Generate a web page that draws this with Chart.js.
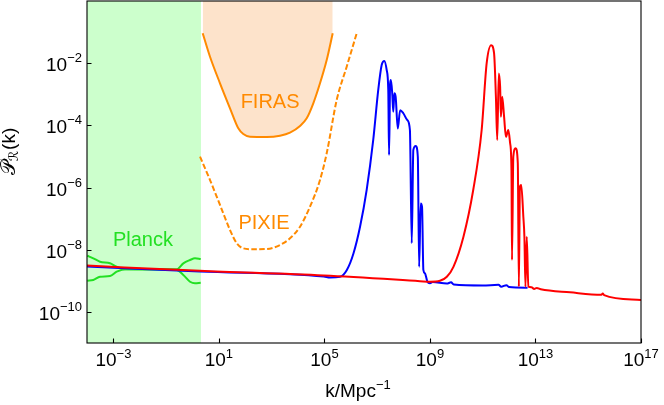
<!DOCTYPE html>
<html><head><meta charset="utf-8">
<script src="https://cdn.jsdelivr.net/npm/chart.js@4/dist/chart.umd.min.js"></script>
<style>html,body{margin:0;padding:0;background:#fff}#wrap{width:664px;height:405px}</style>
</head><body><div id="wrap"><canvas id="c" width="664" height="405"></canvas></div>
<script>
// ---- data (log10 of k and of P) ----
const xTickExp = [-3, 1, 5, 9, 13, 17];
const yTickExp = [-2, -4, -6, -8, -10];

const redLogK = [-4, 0.28, 4.98, 8.62, 9.0, 9.38, 9.64, 9.89, 10.27, 10.64, 10.96, 11.15, 11.32, 11.43, 11.50, 11.55, 11.61, 11.66, 11.69, 11.74, 11.81, 11.88, 11.97, 12.04, 12.09, 12.11, 12.16, 12.25, 12.33, 12.37, 12.41, 12.46, 12.54, 12.58, 12.62, 12.67, 12.73, 12.85, 12.95, 13.05, 13.2, 14.31, 15.5, 15.55, 15.6, 17];
const redLogP = [-8.51, -8.68, -8.83, -9.01, -9.03, -9.00, -8.87, -8.55, -7.58, -6.08, -4.15, -2.00, -1.42, -1.68, -3.08, -4.47, -2.33, -2.76, -3.72, -3.08, -3.72, -4.37, -4.15, -4.58, -5.44, -8.33, -5.01, -4.74, -5.22, -9.19, -5.97, -5.92, -6.94, -7.58, -9.19, -7.58, -9.19, -9.21, -9.26, -9.23, -9.27, -9.37, -9.45, -9.41, -9.46, -9.62];

const blueLogK = [-4, 0.28, 4.98, 5.21, 5.59, 5.85, 6.10, 6.35, 6.60, 6.85, 7.04, 7.17, 7.27, 7.36, 7.42, 7.45, 7.49, 7.52, 7.57, 7.61, 7.65, 7.70, 7.78, 7.87, 7.99, 8.14, 8.24, 8.31, 8.37, 8.46, 8.54, 8.59, 8.65, 8.70, 8.75, 8.81, 8.9, 9.0, 9.1, 9.64, 9.8, 9.9, 11.0, 11.6, 11.7, 11.9, 12.0, 12.7];
const blueLogP = [-8.54, -8.70, -8.86, -8.89, -8.87, -8.65, -8.12, -7.26, -6.08, -4.47, -2.86, -2.06, -1.93, -2.22, -2.86, -4.95, -2.65, -2.54, -2.97, -3.56, -2.97, -3.08, -4.10, -3.51, -3.61, -3.83, -4.15, -7.79, -4.79, -4.66, -5.01, -8.55, -6.51, -6.62, -8.65, -8.76, -9.02, -9.08, -9.04, -9.09, -9.05, -9.12, -9.15, -9.13, -9.19, -9.14, -9.20, -9.22];

const firasLogK = [0.386, 0.663, 1.042, 1.421, 1.735, 1.925, 2.179, 2.812, 3.316, 3.695, 4.074, 4.328, 4.578, 4.832, 5.086, 5.314];
const firasLogP = [-1.039, -1.792, -2.647, -3.451, -4.094, -4.278, -4.365, -4.374, -4.333, -4.236, -4.021, -3.773, -3.290, -2.647, -1.898, -1.039];

const pixieLogK = [0.284, 0.663, 1.042, 1.421, 1.675, 1.925, 2.304, 2.812, 3.316, 3.695, 4.074, 4.453, 4.832, 5.086, 5.465, 5.844, 6.224];
const pixieLogP = [-5.008, -5.758, -6.561, -7.366, -7.793, -7.954, -7.986, -7.977, -7.848, -7.633, -7.260, -6.617, -5.758, -4.899, -3.184, -2.113, -1.039];

const planckLogK = [-3.989, -3.761, -3.507, -3.128, -2.874, -2.495, -0.600, -0.349, -0.095, 0.094, 0.310];
const planckUpLogP = [-8.192, -8.276, -8.385, -8.437, -8.546, -8.630, -8.630, -8.437, -8.331, -8.276, -8.298];
const planckLoLogP = [-8.997, -8.974, -8.868, -8.845, -8.707, -8.630, -8.652, -8.813, -9.029, -9.080, -9.061];

const planckBandLogK = [-4, 0.32];
const xRangeExp = [-4, 17];
const yRangeExp = [-11, 0];

const labelTexts = ['FIRAS', 'PIXIE', 'Planck'];
const labelLogK = [2.94, 2.71, -1.88];
const labelLogP = [-3.45, -7.33, -7.87];

// ---- build points ----
const pts = (lk, lp) => lk.map((v, i) => ({x: Math.pow(10, v), y: Math.pow(10, lp[i])}));

const ORANGE = '#ff8a00', GREEN = '#22e022';
const FONT = '"Liberation Sans", Arial, sans-serif';

function drawPow(ctx, base, exp, x, y, align, big, small, rise) {
  ctx.font = big + 'px ' + FONT;
  const wb = ctx.measureText(base).width;
  ctx.font = small + 'px ' + FONT;
  const we = ctx.measureText(exp).width;
  const w = wb + we;
  let x0 = align === 'center' ? x - w / 2 : (align === 'right' ? x - w : x);
  ctx.textAlign = 'left';
  ctx.textBaseline = 'alphabetic';
  ctx.font = big + 'px ' + FONT;
  ctx.fillText(base, x0, y);
  ctx.font = small + 'px ' + FONT;
  ctx.fillText(exp, x0 + wb, y - rise);
}
const sup = e => (e < 0 ? '\u2212' : '') + Math.abs(e);

const deco = {
  id: 'deco',
  afterDraw(chart) {
    const {ctx, chartArea: a, scales: {x, y}} = chart;
    ctx.save();
    ctx.fillStyle = '#000';
    ctx.strokeStyle = '#000';
    ctx.lineWidth = 1.1;
    ctx.strokeRect(a.left, a.top, a.right - a.left, a.bottom - a.top);
    ctx.beginPath();
    xTickExp.forEach(e => {
      const px = Math.round(x.getPixelForValue(Math.pow(10, e))) + 0.5;
      ctx.moveTo(px, a.bottom); ctx.lineTo(px, a.bottom - 4.5);
    });
    yTickExp.forEach(e => {
      const py = Math.round(y.getPixelForValue(Math.pow(10, e))) + 0.5;
      ctx.moveTo(a.left, py); ctx.lineTo(a.left + 4.5, py);
    });
    ctx.stroke();
    xTickExp.forEach(e => {
      const px = x.getPixelForValue(Math.pow(10, e));
      drawPow(ctx, '10', sup(e), px, a.bottom + 23, 'center', 19, 13, 8.5);
    });
    yTickExp.forEach(e => {
      const py = y.getPixelForValue(Math.pow(10, e));
      drawPow(ctx, '10', sup(e), a.left - 5, py + 8, 'right', 19, 13, 9);
    });
    // x title
    drawPow(ctx, 'k/Mpc', '\u22121', 358, 397, 'center', 19, 13, 8.5);
    // y title
    ctx.translate(15, 152);
    ctx.rotate(-Math.PI / 2);
    ctx.font = '20px "DejaVu Sans", sans-serif';
    const p = '\u{1D4AB}';
    const wp = ctx.measureText(p).width;
    ctx.font = '13px "DejaVu Sans", sans-serif';
    const r = '\u211B';
    const wr = ctx.measureText(r).width;
    ctx.font = '19px ' + FONT;
    const k = '(k)';
    const wk = ctx.measureText(k).width;
    let sx = -(wp + wr + wk) / 2;
    ctx.textAlign = 'left';
    ctx.font = '20px "DejaVu Sans", sans-serif';
    ctx.fillText(p, sx, 0);
    ctx.font = '13px "DejaVu Sans", sans-serif';
    ctx.fillText(r, sx + wp, 3);
    ctx.font = '19px ' + FONT;
    ctx.fillText(k, sx + wp + wr + 1, 0);
    ctx.restore();
    // annotations
    ctx.save();
    ctx.font = '20px ' + FONT;
    ctx.textAlign = 'center';
    ctx.textBaseline = 'alphabetic';
    const cols = [ORANGE, ORANGE, GREEN];
    labelTexts.forEach((t, i) => {
      ctx.fillStyle = cols[i];
      ctx.fillText(t, x.getPixelForValue(Math.pow(10, labelLogK[i])), y.getPixelForValue(Math.pow(10, labelLogP[i])));
    });
    ctx.restore();
  }
};

const lineDs = (data, color, extra) => Object.assign({
  data, borderColor: color, borderWidth: 2, pointRadius: 0, fill: false,
  tension: 0, borderJoinStyle: 'round', borderCapStyle: 'butt'
}, extra || {});

new Chart(document.getElementById('c'), {
  type: 'line',
  data: {
    datasets: [
      lineDs(pts(redLogK, redLogP), '#ff0000', {order: 1, cubicInterpolationMode: 'monotone'}),
      lineDs(pts(blueLogK, blueLogP), '#0000ff', {order: 2, cubicInterpolationMode: 'monotone'}),
      lineDs(pts(planckLogK, planckUpLogP), GREEN, {order: 3, cubicInterpolationMode: 'monotone'}),
      lineDs(pts(planckLogK, planckLoLogP), GREEN, {order: 3, cubicInterpolationMode: 'monotone'}),
      lineDs(pts(pixieLogK, pixieLogP), ORANGE, {order: 4, borderDash: [5.5, 2.4], cubicInterpolationMode: 'monotone'}),
      lineDs(pts(firasLogK, firasLogP), ORANGE, {order: 5, cubicInterpolationMode: 'monotone', fill: 'end', backgroundColor: '#fde3cb'}),
      lineDs(planckBandLogK.map(v => ({x: Math.pow(10, v), y: Math.pow(10, yRangeExp[1])})), 'rgba(0,0,0,0)', {order: 6, borderWidth: 0, fill: 'start', backgroundColor: '#ccffcc'})
    ]
  },
  options: {
    responsive: false,
    animation: false,
    devicePixelRatio: 1,
    layout: {padding: {left: 0, right: 23, top: 1, bottom: 0}},
    plugins: {legend: {display: false}, tooltip: {enabled: false}},
    scales: {
      x: {
        type: 'logarithmic', min: Math.pow(10, xRangeExp[0]), max: Math.pow(10, xRangeExp[1]),
        grid: {display: false}, border: {display: false}, ticks: {display: false},
        afterFit: s => { s.height = 62; }
      },
      y: {
        type: 'logarithmic', min: Math.pow(10, yRangeExp[0]), max: Math.pow(10, yRangeExp[1]),
        grid: {display: false}, border: {display: false}, ticks: {display: false},
        afterFit: s => { s.width = 87; }
      }
    }
  },
  plugins: [deco]
});
</script>
</body></html>
